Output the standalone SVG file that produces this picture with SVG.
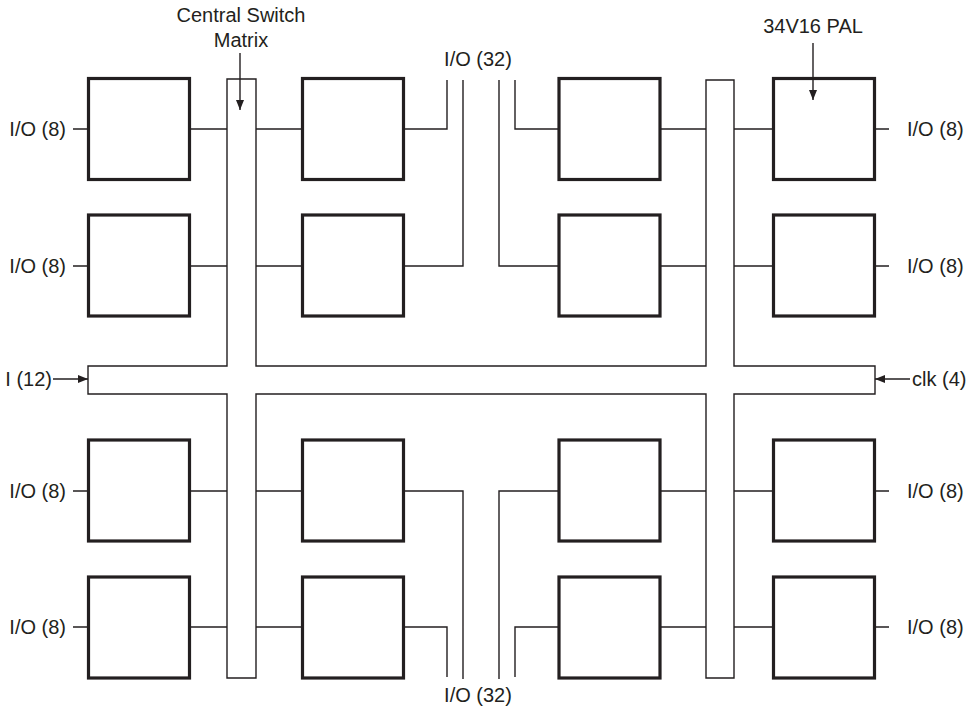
<svg xmlns="http://www.w3.org/2000/svg" width="973" height="708" viewBox="0 0 973 708">
<style>
text{font-family:"Liberation Sans",Arial,sans-serif;font-size:20px;fill:#231f20}
.pal{fill:#fff;stroke:#231f20;stroke-width:3.2}
.ln{fill:none;stroke:#231f20;stroke-width:1.4}
.sw{fill:#fff;stroke:#231f20;stroke-width:1.4}
</style>
<defs>
<marker id="ah" viewBox="0 0 10 8" refX="10" refY="4" markerWidth="10" markerHeight="8" markerUnits="userSpaceOnUse" orient="auto">
<path d="M0,0 L10,4 L0,8 Z" fill="#231f20"/>
</marker>
</defs>
<rect width="973" height="708" fill="#fff"/>
<g id="switch-matrix">
<path class="sw" d="M227,79 H256 V366 H706 V80 H734 V366 H875 V394 H734 V678 H706 V394 H256 V678 H227 V394 H88 V366 H227 Z"/>
</g>
<g id="connectors" class="ln">
<path d="M190,129 H227 M256,129 H302 M190,266 H227 M256,266 H302 M190,491 H227 M256,491 H302 M190,627 H227 M256,627 H302"/>
<path d="M661,129 H706 M734,129 H773 M661,266 H706 M734,266 H773 M661,491 H706 M734,491 H773 M661,627 H706 M734,627 H773"/>
<path d="M73,129 H88 M73,266 H88 M73,491 H88 M73,627 H88"/>
<path d="M875,129 H889 M875,266 H889 M875,491 H889 M875,627 H889"/>
<path d="M404,129 H447 V80 M463,80 V266 H404 M499,80 V266 H558 M515,80 V129 H558"/>
<path d="M404,491 H463 V679 M558,491 H499 V679 M404,627 H447 V677 M558,627 H515 V677"/>
<path d="M53,379 H88" marker-end="url(#ah)"/>
<path d="M910,379 H875" marker-end="url(#ah)"/>
</g>
<g id="pal-r1c1"><rect class="pal" x="88.5" y="78.5" width="101" height="101"/></g>
<g id="pal-r1c2"><rect class="pal" x="302.5" y="78.5" width="101" height="101"/></g>
<g id="pal-r1c3"><rect class="pal" x="559" y="78.5" width="101" height="101"/></g>
<g id="pal-r1c4"><rect class="pal" x="773.5" y="78.5" width="101" height="101"/></g>
<g id="pal-r2c1"><rect class="pal" x="88.5" y="215" width="101" height="101"/></g>
<g id="pal-r2c2"><rect class="pal" x="302.5" y="215" width="101" height="101"/></g>
<g id="pal-r2c3"><rect class="pal" x="559" y="215" width="101" height="101"/></g>
<g id="pal-r2c4"><rect class="pal" x="773.5" y="215" width="101" height="101"/></g>
<g id="pal-r3c1"><rect class="pal" x="88.5" y="440" width="101" height="101"/></g>
<g id="pal-r3c2"><rect class="pal" x="302.5" y="440" width="101" height="101"/></g>
<g id="pal-r3c3"><rect class="pal" x="559" y="440" width="101" height="101"/></g>
<g id="pal-r3c4"><rect class="pal" x="773.5" y="440" width="101" height="101"/></g>
<g id="pal-r4c1"><rect class="pal" x="88.5" y="577" width="101" height="101"/></g>
<g id="pal-r4c2"><rect class="pal" x="302.5" y="577" width="101" height="101"/></g>
<g id="pal-r4c3"><rect class="pal" x="559" y="577" width="101" height="101"/></g>
<g id="pal-r4c4"><rect class="pal" x="773.5" y="577" width="101" height="101"/></g>
<g id="callouts" class="ln">
<path d="M240,53 V110" marker-end="url(#ah)"/>
<path d="M813,43 V100" marker-end="url(#ah)"/>
</g>
<g id="labels">
<text x="66" y="136" text-anchor="end">I/O (8)</text>
<text x="66" y="273" text-anchor="end">I/O (8)</text>
<text x="66" y="498" text-anchor="end">I/O (8)</text>
<text x="66" y="634" text-anchor="end">I/O (8)</text>
<text x="907" y="136">I/O (8)</text>
<text x="907" y="273">I/O (8)</text>
<text x="907" y="498">I/O (8)</text>
<text x="907" y="634">I/O (8)</text>
<text x="52" y="386" text-anchor="end">I (12)</text>
<text x="912" y="386">clk (4)</text>
<text x="241" y="22" text-anchor="middle">Central Switch</text>
<text x="241" y="47" text-anchor="middle">Matrix</text>
<text x="478" y="66" text-anchor="middle">I/O (32)</text>
<text x="478" y="702" text-anchor="middle">I/O (32)</text>
<text x="813" y="33" text-anchor="middle">34V16 PAL</text>
</g>
</svg>
